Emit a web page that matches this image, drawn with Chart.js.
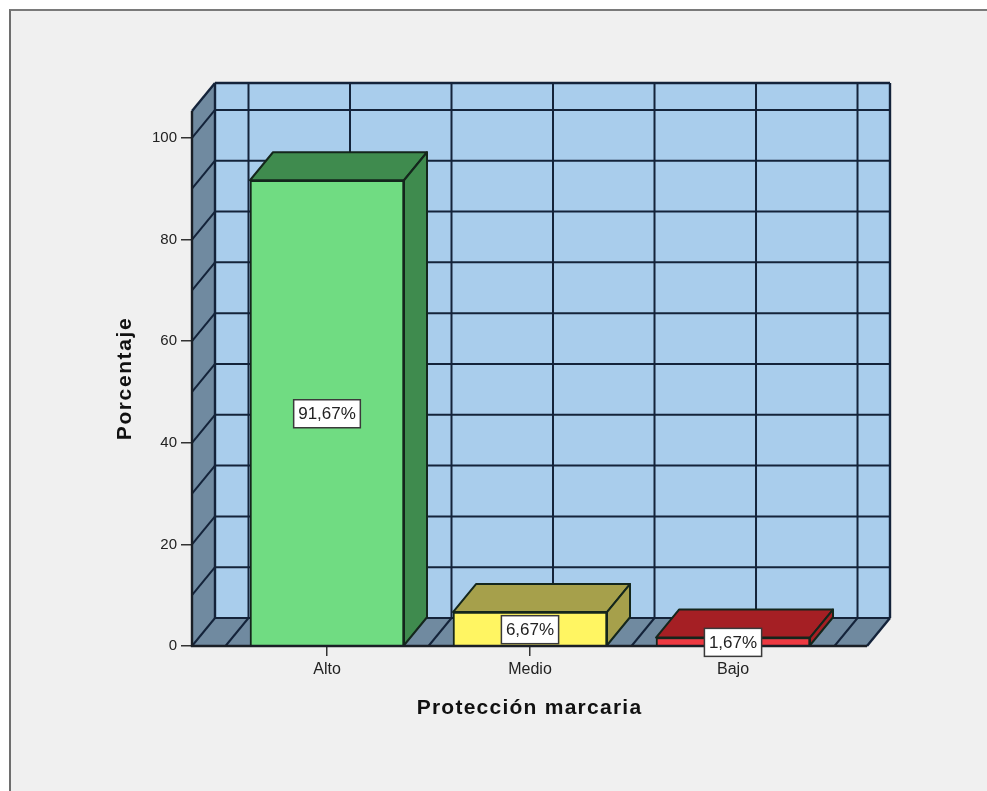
<!DOCTYPE html>
<html><head><meta charset="utf-8">
<script src="https://cdn.jsdelivr.net/npm/chart.js@4"></script>
<style>
html,body{margin:0;padding:0;background:#fff;width:987px;height:791px;overflow:hidden}
#panel{position:absolute;left:9px;top:9px;width:978px;height:782px;background:#f0f0f0;border-left:2px solid #6e6e6e;border-top:2px solid #7a7a7a;box-sizing:border-box}
#wrap{position:absolute;left:0;top:0;width:987px;height:791px}
</style></head><body>
<div id="panel"></div>
<div id="wrap"><canvas id="c" width="987" height="791"></canvas></div>
<script>
const categories = ['Alto', 'Medio', 'Bajo'];
const percentages = [91.67, 6.67, 1.67];
const yTickStep = 20;
const wallGridValues = [0, 10, 20, 30, 40, 50, 60, 70, 80, 90, 100];
const floorGridValues = [-0.5, 0, 0.5, 1, 1.5, 2, 2.5];
const faceColors = ['#70dc82', '#fff562', '#ee3a42'];
const darkColors = ['#3f8b4e', '#a6a04b', '#a51f24'];

const DX = 23, DY = 28, INK = '#14233a';

const spacedTitle = (scale, spacing) => {
  if (scale._spaced) return;
  scale._spaced = true;
  const draw = scale.drawTitle;
  scale.drawTitle = function () {
    const g = this.ctx; g.save(); g.letterSpacing = spacing; draw.apply(this, arguments); g.restore();
  };
};

const scene = {
  id: 'scene',
  beforeDatasetsDraw(chart) {
    const g = chart.ctx, a = chart.chartArea, xs = chart.scales.x, ys = chart.scales.y;
    const poly = (pts, fill, stroke, w) => {
      g.beginPath(); pts.forEach((p, i) => i ? g.lineTo(p[0], p[1]) : g.moveTo(p[0], p[1])); g.closePath();
      if (fill) { g.fillStyle = fill; g.fill(); }
      if (stroke) { g.strokeStyle = stroke; g.lineWidth = w; g.stroke(); }
    };
    const line = (x1, y1, x2, y2, w) => { g.beginPath(); g.moveTo(x1, y1); g.lineTo(x2, y2); g.strokeStyle = INK; g.lineWidth = w; g.stroke(); };
    g.save(); g.lineJoin = 'round'; g.lineCap = 'butt';
    poly([[a.left + DX, a.top - DY], [a.right + DX, a.top - DY], [a.right + DX, a.bottom - DY], [a.left + DX, a.bottom - DY]], '#a9cdec');
    poly([[a.left, a.top], [a.left + DX, a.top - DY], [a.left + DX, a.bottom - DY], [a.left, a.bottom]], '#708aa0');
    poly([[a.left, a.bottom], [a.left + DX, a.bottom - DY], [a.right + DX, a.bottom - DY], [a.right, a.bottom]], '#708aa0');
    wallGridValues.forEach(v => {
      const y = ys.getPixelForValue(v);
      line(a.left + DX, y - DY, a.right + DX, y - DY, 2);
      line(a.left, y, a.left + DX, y - DY, 2);
    });
    floorGridValues.forEach(v => {
      const x = xs.getPixelForValue(v);
      line(x + DX, a.top - DY, x + DX, a.bottom - DY, 2);
      line(x, a.bottom, x + DX, a.bottom - DY, 2);
    });
    line(a.left + DX, a.top - DY, a.right + DX, a.top - DY, 2.4);
    line(a.right + DX, a.top - DY, a.right + DX, a.bottom - DY, 2.4);
    line(a.left + DX, a.top - DY, a.left + DX, a.bottom - DY, 2.4);
    line(a.left, a.top, a.left + DX, a.top - DY, 2.4);
    line(a.right, a.bottom, a.right + DX, a.bottom - DY, 2.4);
    chart.getDatasetMeta(0).data.forEach((b, i) => {
      const l = b.x - b.width / 2, r = b.x + b.width / 2, t = b.y, m = b.base;
      poly([[l, t], [l + DX, t - DY], [r + DX, t - DY], [r, t]], darkColors[i], '#14261c', 2);
      poly([[r, t], [r + DX, t - DY], [r + DX, m - DY], [r, m]], darkColors[i], '#14261c', 2);
    });
    g.restore();
  },
  afterDatasetsDraw(chart) {
    const g = chart.ctx, a = chart.chartArea;
    g.save();
    g.strokeStyle = '#1a1f26'; g.lineWidth = 2.4;
    g.beginPath(); g.moveTo(a.left, a.top); g.lineTo(a.left, a.bottom); g.lineTo(a.right, a.bottom); g.stroke();
    g.font = '17px "Liberation Sans"'; g.textAlign = 'center'; g.textBaseline = 'middle';
    chart.getDatasetMeta(0).data.forEach((b, i) => {
      const txt = percentages[i].toFixed(2).replace('.', ',') + '%';
      const w = g.measureText(txt).width + 9, h = 28, cy = (b.y + b.base) / 2 + 1;
      g.fillStyle = '#fff'; g.fillRect(b.x - w / 2, cy - h / 2, w, h);
      g.strokeStyle = '#3a3a3a'; g.lineWidth = 1.5; g.strokeRect(b.x - w / 2, cy - h / 2, w, h);
      g.fillStyle = '#222'; g.fillText(txt, b.x, cy + 1);
    });
    g.restore();
  }
};

new Chart(document.getElementById('c'), {
  type: 'bar',
  data: {
    datasets: [{
      label: 'Porcentaje',
      data: categories.map((_, i) => ({ x: i, y: percentages[i] })),
      backgroundColor: faceColors,
      borderColor: '#14261c',
      borderWidth: 2,
      barThickness: 154
    }]
  },
  plugins: [scene],
  options: {
    responsive: false,
    animation: false,
    devicePixelRatio: 1,
    layout: { padding: { left: 113, right: 120, top: 111, bottom: 70 } },
    plugins: { legend: { display: false }, tooltip: { enabled: false } },
    scales: {
      x: {
        type: 'linear', min: -0.665, max: 2.66, offset: false,
        afterBuildTicks(s) { s.ticks = categories.map((_, i) => ({ value: i })); },
        afterFit(s) { s.height = 75; spacedTitle(s, '1.25px'); },
        grid: { offset: false, drawOnChartArea: false, drawTicks: true, tickLength: 10, color: '#333', lineWidth: 1.5 },
        border: { display: false },
        ticks: { autoSkip: false, maxRotation: 0, padding: 4, color: '#222', font: { family: '"Liberation Sans"', size: 16 }, callback: v => categories[v] },
        title: { display: true, text: 'Protección marcaria', color: '#111', font: { family: '"Liberation Sans"', size: 21, weight: 'bold' }, padding: { top: 2, bottom: 0 } }
      },
      y: {
        min: 0, max: 105.3,
        afterFit(s) { s.width = 79; spacedTitle(s, '1.6px'); },
        grid: { drawOnChartArea: false, drawTicks: true, tickLength: 11, color: '#333', lineWidth: 1.5 },
        border: { display: false },
        ticks: { stepSize: yTickStep, includeBounds: false, padding: 4, color: '#222', font: { family: '"Liberation Sans"', size: 15 } },
        title: { display: true, text: 'Porcentaje', color: '#111', font: { family: '"Liberation Sans"', size: 21, weight: 'bold' }, padding: { top: 0, bottom: 0 } }
      }
    }
  }
});
</script>
</body></html>
